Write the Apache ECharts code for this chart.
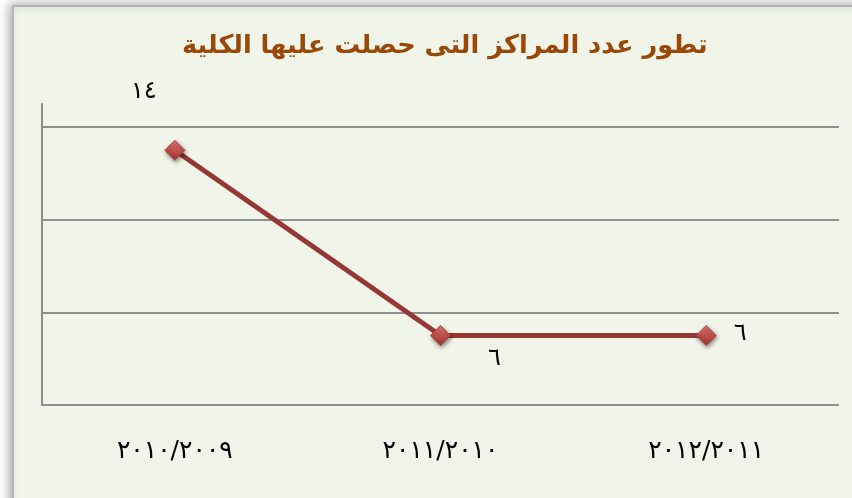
<!DOCTYPE html>
<html lang="ar">
<head>
    <meta charset="UTF-8">
    <title>تطور عدد المراكز</title>
    <script src="https://cdn.jsdelivr.net/npm/echarts@6/dist/echarts.min.js"></script>
    <style>
        html, body { margin: 0; padding: 0; background: #ffffff; }
    </style>
</head>
<body>
    <div id="main" style="width: 852px;height:498px;"></div>
    <script type="text/javascript">
        // data
        var titleText = 'تطور عدد المراكز التى حصلت عليها الكلية';
        var years = ['٢٠١٠/٢٠٠٩', '٢٠١١/٢٠١٠', '٢٠١٢/٢٠١١'];
        var centers = [14, 6, 6];
        var centerLabels = ['١٤', '٦', '٦'];
        // where each value label sits next to its point
        var labelOffsets = [[-31, -59], [54, 23], [34, -2]];

        var myChart = echarts.init(document.getElementById('main'));

        var points = centers.map(function (v, i) {
            return {
                value: v,
                label: { offset: labelOffsets[i], formatter: centerLabels[i] }
            };
        });

        var option = {
            animation: false,
            graphic: [{
                type: 'rect',
                z: -10,
                shape: { x: 13, y: 6, width: 860, height: 510 },
                style: {
                    fill: '#f1f4e8',
                    stroke: '#b3b3b3',
                    lineWidth: 2,
                    shadowBlur: 10,
                    shadowOffsetX: -3,
                    shadowOffsetY: -1,
                    shadowColor: 'rgba(0,0,0,0.3)'
                }
            }],
            title: {
                text: titleText,
                left: 177,
                top: 28,
                textStyle: {
                    color: '#984807',
                    fontFamily: 'DejaVu Sans',
                    fontWeight: 'bold',
                    fontSize: 25.6
                }
            },
            grid: { left: 42, right: 13, top: 104, bottom: 93 },
            xAxis: {
                type: 'category',
                data: years,
                axisLine: { show: false },
                axisTick: { show: false },
                axisLabel: {
                    margin: 34,
                    color: '#000',
                    fontFamily: 'DejaVu Sans',
                    fontSize: 25
                }
            },
            yAxis: {
                type: 'value',
                min: 3,
                max: 16,
                interval: 4,
                axisLine: { show: true, lineStyle: { color: '#8c8c8c', width: 2 } },
                axisTick: { show: false },
                axisLabel: { show: false },
                splitLine: {
                    show: true,
                    showMaxLine: false,
                    lineStyle: { color: '#8f8f8f', width: 2 }
                }
            },
            series: [{
                type: 'line',
                data: points,
                symbol: 'diamond',
                symbolSize: 20,
                lineStyle: { color: '#953735', width: 5 },
                itemStyle: {
                    color: new echarts.graphic.LinearGradient(0, 0, 0, 1, [
                        { offset: 0, color: '#e07a77' },
                        { offset: 0.5, color: '#c0504d' },
                        { offset: 1, color: '#9c3431' }
                    ]),
                    borderColor: '#b04441',
                    borderWidth: 1,
                    shadowBlur: 4,
                    shadowOffsetX: 1,
                    shadowOffsetY: 2,
                    shadowColor: 'rgba(0,0,0,0.45)'
                },
                label: {
                    show: true,
                    position: 'inside',
                    color: '#000',
                    fontFamily: 'DejaVu Sans',
                    fontSize: 24
                }
            }]
        };
        myChart.setOption(option);
    </script>
</body>
</html>
